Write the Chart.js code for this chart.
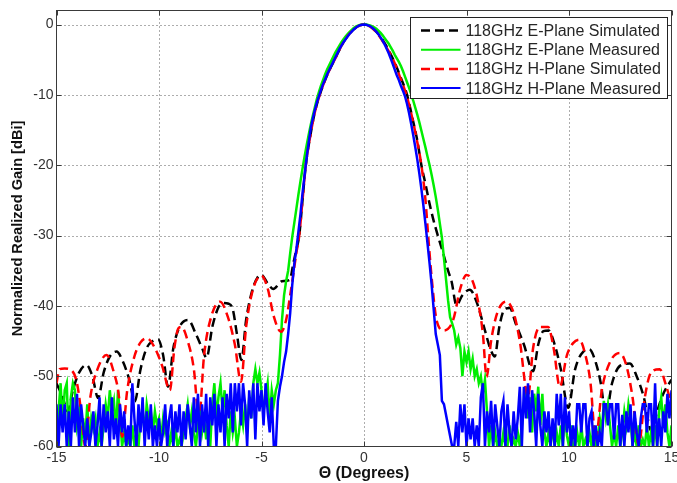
<!DOCTYPE html>
<html><head><meta charset="utf-8">
<script src="https://cdn.jsdelivr.net/npm/chart.js@4"></script>
<style>html,body{margin:0;padding:0;background:#fff;}canvas{display:block;}</style>
</head><body>
<canvas id="c" width="677" height="483"></canvas>
<script>
const seriesNames = ['118GHz E-Plane Simulated','118GHz E-Plane Measured','118GHz H-Plane Simulated','118GHz H-Plane Measured'];
const xTicks = [-15,-10,-5,0,5,10,15];
const yTicks = [-60,-50,-40,-30,-20,-10,0];
const xTitle = '\u0398 (Degrees)';
const yTitle = 'Normalized Realized Gain [dBi]';

// measurement angle grid (degrees)
const measAngles = [
-15,-14.9,-14.8,-14.7,-14.6,-14.5,-14.4,-14.3,-14.2,-14.1,
-14,-13.9,-13.8,-13.7,-13.6,-13.5,-13.4,-13.3,-13.2,-13.1,
-13,-12.9,-12.8,-12.7,-12.6,-12.5,-12.4,-12.3,-12.2,-12.1,
-12,-11.9,-11.8,-11.7,-11.6,-11.5,-11.4,-11.3,-11.2,-11.1,
-11,-10.9,-10.8,-10.7,-10.6,-10.5,-10.4,-10.3,-10.2,-10.1,
-10,-9.9,-9.8,-9.7,-9.6,-9.5,-9.4,-9.3,-9.2,-9.1,
-9,-8.9,-8.8,-8.7,-8.6,-8.5,-8.4,-8.3,-8.2,-8.1,
-8,-7.9,-7.8,-7.7,-7.6,-7.5,-7.4,-7.3,-7.2,-7.1,
-7,-6.9,-6.8,-6.7,-6.6,-6.5,-6.4,-6.3,-6.2,-6.1,
-6,-5.9,-5.8,-5.7,-5.6,-5.5,-5.4,-5.3,-5.2,-5.1,
-5,-4.9,-4.8,-4.7,-4.6,-4.5,-4.4,-4.3,-4.2,-4.1,
-4,-3.9,-3.8,-3.7,-3.6,-3.5,-3.4,-3.3,-3.2,-3.1,
-3,-2.9,-2.8,-2.7,-2.6,-2.5,-2.4,-2.3,-2.2,-2.1,
-2,-1.9,-1.8,-1.7,-1.6,-1.5,-1.4,-1.3,-1.2,-1.1,
-1,-0.9,-0.8,-0.7,-0.6,-0.5,-0.4,-0.3,-0.2,-0.1,
0,0.1,0.2,0.3,0.4,0.5,0.6,0.7,0.8,0.9,
1,1.1,1.2,1.3,1.4,1.5,1.6,1.7,1.8,1.9,
2,2.1,2.2,2.3,2.4,2.5,2.6,2.7,2.8,2.9,
3,3.1,3.2,3.3,3.4,3.5,3.6,3.7,3.8,3.9,
4,4.1,4.2,4.3,4.4,4.5,4.6,4.7,4.8,4.9,
5,5.1,5.2,5.3,5.4,5.5,5.6,5.7,5.8,5.9,
6,6.1,6.2,6.3,6.4,6.5,6.6,6.7,6.8,6.9,
7,7.1,7.2,7.3,7.4,7.5,7.6,7.7,7.8,7.9,
8,8.1,8.2,8.3,8.4,8.5,8.6,8.7,8.8,8.9,
9,9.1,9.2,9.3,9.4,9.5,9.6,9.7,9.8,9.9,
10,10.1,10.2,10.3,10.4,10.5,10.6,10.7,10.8,10.9,
11,11.1,11.2,11.3,11.4,11.5,11.6,11.7,11.8,11.9,
12,12.1,12.2,12.3,12.4,12.5,12.6,12.7,12.8,12.9,
13,13.1,13.2,13.3,13.4,13.5,13.6,13.7,13.8,13.9,
14,14.1,14.2,14.3,14.4,14.5,14.6,14.7,14.8,14.9,
15];

// H-plane measured (blue)
const hMeasGain = [
-54,-60,-54,-58,-54,-60,-55,-60,-53,-58,
-52.5,-60,-54,-57,-60,-56,-60,-58,-55,-60,
-57,-53,-60,-54,-58,-55,-60,-53,-59,-56,
-60,-54,-58,-55,-60,-57,-60,-51,-56,-60,
-54,-58,-53,-60,-55,-59,-54,-60,-57,-60,
-56,-60,-58,-54,-60,-56,-54,-60,-55,-58,
-54,-60,-55,-59,-54,-57,-60,-53,-58,-52.5,
-60,-54,-58,-52.5,-60,-53,-57,-52.5,-60,-54,
-58,-53,-60,-52.5,-56,-51,-58,-51,-55,-51,
-57,-51,-54,-60,-52,-56,-51,-59,-51,-55,
-52,-57,-51,-55,-58,-53,-60,-60,-53.5,-51.5,
-50,-48,-46.5,-44,-41,-37,-34,-32,-29.5,-27,
-24,-21.5,-19,-16.8,-14.8,-13.4,-12.2,-11.1,-10.2,-9.3,
-8.5,-7.8,-7.1,-6.5,-5.9,-5.3,-4.7,-4.1,-3.5,-3.0,
-2.5,-2.1,-1.7,-1.3,-1.0,-0.7,-0.45,-0.25,-0.1,-0.02,
0,-0.03,-0.11,-0.25,-0.45,-0.7,-1.0,-1.36,-1.78,-2.25,
-2.8,-3.4,-4.05,-4.8,-5.6,-6.4,-7.2,-7.9,-8.7,-9.4,
-10.2,-11.3,-12.6,-14.1,-15.7,-17.4,-19.2,-21.2,-23.4,-25.8,
-28.4,-31.2,-34,-37,-40.5,-44,-45.5,-47,-53.5,-54,
-55.5,-57,-58.5,-60,-60,-56.5,-60,-54,-58,-54,
-60,-56,-59,-56,-60,-57,-60,-53,-51,-60,
-55,-58,-53.5,-60,-54,-57,-60,-55,-53.5,-60,
-54,-58,-60,-55,-59,-56,-51.5,-60,-51.5,-56,
-51,-58,-52,-55,-60,-52.5,-57,-60,-55,-58,
-55,-60,-56,-60,-52.5,-57,-52.5,-60,-53,-58,
-55,-60,-57,-60,-54,-54,-58,-54,-54,-60,
-56,-55,-60,-57,-60,-58,-60,-54,-54,-57,
-54,-54,-59,-54,-54,-60,-55.5,-60,-55,-58,
-54,-60,-55,-58,-60,-56,-54,-54,-58,-54,
-54,-60,-51,-60,-56,-60,-55,-58,-52.5,-56,
-52];

// E-plane measured (green)
const eMeasGain = [
-58,-55,-51,-57,-52,-51,-60,-53,-51,-52,
-57,-55,-60,-56,-59,-54,-60,-56,-57.5,-56,
-60,-58,-60,-57,-54,-56,-52,-55,-53.5,-58,
-52,-56,-60,-58,-60,-59,-60,-57,-60,-58,
-60,-56,-55,-58,-54,-56,-55,-58,-55,-57,
-56,-59,-56,-58,-57,-60,-58,-60,-57,-60,
-59,-60,-58,-56,-54,-57,-55,-58,-60,-57,
-55,-58,-56,-59,-56,-60,-54,-51,-56,-53,
-51,-55,-52,-57,-60,-55,-58,-56,-60,-58,
-55,-57,-54,-58,-53,-56,-51,-49,-51,-49.5,
-52,-55,-53,-51,-56,-52,-54,-52,-51,-47,
-42,-38.5,-36.5,-35,-32.5,-30.2,-28.2,-26.2,-24.2,-22.3,
-20.5,-18.8,-17.2,-15.7,-14.3,-13,-11.8,-10.6,-9.6,-8.7,
-7.9,-7.1,-6.4,-5.8,-5.2,-4.6,-4.0,-3.5,-3.0,-2.5,
-2.1,-1.7,-1.35,-1.05,-0.75,-0.5,-0.3,-0.15,-0.05,0,
0,0,-0.05,-0.12,-0.25,-0.4,-0.6,-0.85,-1.15,-1.5,
-1.9,-2.3,-2.7,-3.2,-3.7,-4.3,-4.8,-5.3,-5.9,-6.6,
-7.4,-8.2,-9.0,-9.9,-10.8,-11.8,-12.8,-13.9,-15.1,-16.3,
-17.5,-18.8,-20.0,-21.4,-22.9,-24.5,-26.3,-28.3,-30.3,-33.2,
-36.2,-39.2,-41.6,-42.5,-43.5,-45.5,-44.5,-46,-50,-46.5,
-48,-46.5,-49,-47.5,-50,-49,-51,-50,-52.5,-50.5,
-55,-60,-57,-60,-58,-60,-59,-60,-58,-60,
-60,-57,-60,-59,-60,-58,-60,-57,-54,-51.5,
-56,-53,-58,-52.5,-55,-51.5,-57,-52.5,-58,-60,
-58,-60,-57,-60,-58,-60,-57,-60,-55,-58.5,
-60,-57,-60,-60,-58,-60,-57,-60,-59,-60,
-58,-60,-57,-60,-59,-56,-58,-53.5,-56,-54,
-57,-60,-58,-60,-57,-60,-58,-55,-57,-54,
-56,-60,-58,-60,-57,-60,-59,-60,-57,-60,
-58,-60,-57,-60,-55,-53,-57,-54,-58,-60,
-57];

// E-plane simulated (black dashed)
const eSimAngles = [-15,-14.7,-14.45,-14.2,-13.9,-13.54,-13.25,-12.97,-12.7,-12.4,-12.07,-11.75,-11.45,-11.18,-10.9,-10.6,-10.3,-10.04,-9.8,-9.56,-9.3,-9.0,-8.58,-8.2,-7.9,-7.68,-7.4,-7.1,-6.87,-6.6,-6.4,-6.2,-5.98,-5.75,-5.45,-5.2,-5.0,-4.7,-4.43,-4.0,-3.62,-3.45,-3.3,-3.16,-3.0,-2.84,-2.6,-2.4,-2.16,-1.8,-1.4,-1.0,-0.6,-0.3,0,0.3,0.6,1.0,1.45,1.8,2.1,2.4,2.6,2.8,3.0,3.2,3.37,3.6,3.86,4.1,4.27,4.51,4.8,5.16,5.5,5.9,6.15,6.38,6.6,6.85,7.11,7.4,7.8,8.25,8.5,8.75,9.0,9.3,9.6,9.96,10.3,10.7,11.0,11.3,11.55,11.8,12.1,12.5,12.97,13.3,13.65,14.02,14.3,14.6,15.0];
const eSimGain = [-51,-53,-55,-52,-49.5,-48.4,-50,-53.1,-49.5,-47.2,-46.5,-48,-50.5,-53.6,-49,-46,-45,-44.8,-47,-51.5,-46,-43,-42,-44,-46,-47.4,-43,-40.2,-39.6,-39.7,-40.5,-44,-47.7,-42,-37.8,-36,-35.6,-36.8,-37.6,-36.5,-36.3,-34,-32,-30,-25,-20,-15.5,-12.5,-10,-7.2,-4.8,-2.5,-0.95,-0.25,0,-0.25,-1.0,-2.6,-5.1,-7.6,-10,-13.8,-16.5,-20,-22.7,-25.5,-27.6,-30,-32.5,-35,-36.5,-39.9,-38.5,-37.7,-39.5,-43.5,-46,-47.2,-43,-40.5,-40.3,-42.5,-45.5,-49.3,-45.5,-43.6,-43.5,-45.5,-49,-54.5,-49,-46.5,-46.2,-48,-51,-55.5,-51,-48.5,-48.2,-50,-53,-57.8,-55,-52.5,-50.5];

// H-plane simulated (red dashed)
const hSimAngles = [-15,-14.85,-14.6,-14.25,-14.0,-13.8,-13.6,-13.35,-13.0,-12.56,-12.2,-11.95,-11.8,-11.55,-11.2,-10.9,-10.6,-10.2,-9.85,-9.47,-9.25,-9.05,-8.9,-8.6,-8.3,-8.05,-7.8,-7.45,-7.02,-6.65,-6.3,-6.0,-5.75,-5.4,-5.0,-4.7,-4.4,-4.05,-3.8,-3.6,-3.45,-3.3,-3.16,-3.0,-2.84,-2.6,-2.4,-2.16,-1.8,-1.4,-1.0,-0.6,-0.3,0,0.3,0.6,1.0,1.45,1.8,2.07,2.3,2.55,2.8,3.0,3.13,3.3,3.54,3.9,4.35,4.7,5.0,5.3,5.57,5.8,5.98,6.2,6.5,6.95,7.3,7.6,8.0,8.25,8.58,8.98,9.25,9.55,9.9,10.2,10.5,10.8,11.05,11.3,11.6,12.0,12.48,12.8,13.1,13.4,13.7,14.0,14.43,14.7,15.0];
const hSimGain = [-51,-49,-48.9,-49.2,-51,-55,-60,-53,-49,-47,-49.5,-53,-58.6,-52,-47.2,-45.2,-44.6,-46,-48.5,-52,-46,-43.2,-43,-45,-49,-56,-47,-41.5,-39.4,-41.5,-45.5,-50.8,-43,-37.5,-35.7,-37.5,-41.5,-43.7,-42,-38.5,-35.5,-32.5,-30,-25,-20,-15.5,-12.5,-10,-7.2,-4.8,-2.5,-0.95,-0.25,0,-0.3,-1.1,-2.8,-5.2,-7.8,-10,-12.6,-16,-20,-25,-30,-36,-42,-43.5,-42,-37.5,-35.6,-36.5,-39.5,-44,-50.1,-45,-41,-39.4,-41,-45,-52.9,-46,-43,-43,-46,-51.5,-47,-45.3,-44.8,-47,-51,-59,-52,-48,-46.7,-48.5,-53,-59.8,-53,-49.5,-49,-51,-54];

function pts(xs, ys) { return xs.map((x, i) => ({x: x, y: ys[i]})); }

const FONT = '"Liberation Sans", Arial, sans-serif';

const matlabFrame = {
  id: 'matlabFrame',
  beforeDatasetsDraw(chart) {
    const {ctx, chartArea: a, scales: {x, y}} = chart;
    ctx.save();
    ctx.strokeStyle = '#5a5a5a';
    ctx.lineWidth = 1;
    ctx.setLineDash([1, 3]);
    xTicks.forEach(v => {
      if (v <= x.min || v >= x.max) return;
      const px = Math.round(x.getPixelForValue(v)) + 0.5;
      ctx.beginPath(); ctx.moveTo(px, a.top); ctx.lineTo(px, a.bottom); ctx.stroke();
    });
    yTicks.forEach(v => {
      if (v <= y.min || v >= y.max) return;
      const py = Math.round(y.getPixelForValue(v)) + 0.5;
      ctx.beginPath(); ctx.moveTo(a.left, py); ctx.lineTo(a.right, py); ctx.stroke();
    });
    ctx.restore();
  },
  afterDatasetsDraw(chart) {
    const {ctx, chartArea: a, scales: {x, y}} = chart;
    ctx.save();
    ctx.setLineDash([]);
    ctx.strokeStyle = '#3a3a3a';
    ctx.lineWidth = 1;
    ctx.strokeRect(a.left, a.top, a.right - a.left, a.bottom - a.top);
    const tl = 5;
    ctx.beginPath();
    xTicks.forEach(v => {
      const px = Math.round(x.getPixelForValue(v)) + 0.5;
      ctx.moveTo(px, a.bottom); ctx.lineTo(px, a.bottom - tl);
      ctx.moveTo(px, a.top); ctx.lineTo(px, a.top + tl);
    });
    yTicks.forEach(v => {
      const py = Math.round(y.getPixelForValue(v)) + 0.5;
      ctx.moveTo(a.left, py); ctx.lineTo(a.left + tl, py);
      ctx.moveTo(a.right, py); ctx.lineTo(a.right - tl, py);
    });
    ctx.stroke();

    // legend box
    const bw = 257, bh = 81;
    const bx = Math.round(a.right - 5 - bw) + 0.5;
    const by = Math.round(a.top + 6) + 0.5;
    ctx.fillStyle = '#ffffff';
    ctx.fillRect(bx, by, bw, bh);
    ctx.strokeStyle = '#222';
    ctx.strokeRect(bx, by, bw, bh);
    ctx.font = '16px ' + FONT;
    ctx.textBaseline = 'middle';
    ctx.textAlign = 'left';
    chart.data.datasets.forEach((ds, i) => {
      const cy = by + 13 + i * 19.2;
      ctx.save();
      ctx.strokeStyle = ds.borderColor;
      ctx.lineWidth = ds.borderDash ? ds.borderWidth : 2;
      ctx.setLineDash(ds.borderDash || []);
      ctx.beginPath(); ctx.moveTo(bx + 10.5, cy); ctx.lineTo(bx + 50, cy); ctx.stroke();
      ctx.restore();
      ctx.fillStyle = '#262626';
      ctx.fillText(ds.label, bx + 55, cy + 1);
    });
    ctx.restore();
  }
};

const datasets = [
  {label: seriesNames[0], data: pts(eSimAngles, eSimGain), borderColor: '#000000', borderWidth: 2.5, borderDash: [9, 5], cubicInterpolationMode: 'monotone', order: 4},
  {label: seriesNames[1], data: pts(measAngles, eMeasGain), borderColor: '#00ee00', borderWidth: 2.5, order: 3},
  {label: seriesNames[2], data: pts(hSimAngles, hSimGain), borderColor: '#ff0000', borderWidth: 2.5, borderDash: [9, 5], cubicInterpolationMode: 'monotone', order: 2},
  {label: seriesNames[3], data: pts(measAngles, hMeasGain), borderColor: '#0000ff', borderWidth: 2.5, order: 1}
];
datasets.forEach(d => { d.pointRadius = 0; d.fill = false; d.clip = 0; d.tension = 0; d.borderJoinStyle = 'miter'; });
datasets[0].tension = 0.4; datasets[2].tension = 0.4;

new Chart(document.getElementById('c'), {
  type: 'line',
  data: {datasets: datasets},
  options: {
    responsive: false,
    animation: false,
    devicePixelRatio: 1,
    layout: {padding: {left: 0, right: 5.5, top: 10.5, bottom: 0}},
    plugins: {legend: {display: false}, tooltip: {enabled: false}},
    scales: {
      x: {
        type: 'linear', min: -15, max: 15,
        afterBuildTicks: s => { s.ticks = xTicks.map(v => ({value: v})); },
        afterFit: s => { s.height = 36.5; s.paddingLeft = 0; s.paddingRight = 0; },
        grid: {display: false, drawTicks: false}, border: {display: false},
        ticks: {padding: 3, color: '#333', font: {family: FONT, size: 14}, maxRotation: 0, autoSkip: false},
        title: {display: true, text: xTitle, color: '#111', font: {family: FONT, size: 16, weight: 'bold'}, padding: {top: 0, bottom: 0}}
      },
      y: {
        type: 'linear', min: -60, max: 2,
        afterBuildTicks: s => { s.ticks = yTicks.map(v => ({value: v})); },
        afterFit: s => { s.width = 56.5; s.paddingTop = 0; s.paddingBottom = 0; },
        grid: {display: false, drawTicks: false}, border: {display: false},
        ticks: {padding: 3, color: '#333', font: {family: FONT, size: 14}, autoSkip: false},
        title: {display: true, text: yTitle, color: '#111', font: {family: FONT, size: 14.6, weight: 'bold'}, padding: {top: 9.5, bottom: 0}}
      }
    }
  },
  plugins: [matlabFrame]
});
</script>
</body></html>
